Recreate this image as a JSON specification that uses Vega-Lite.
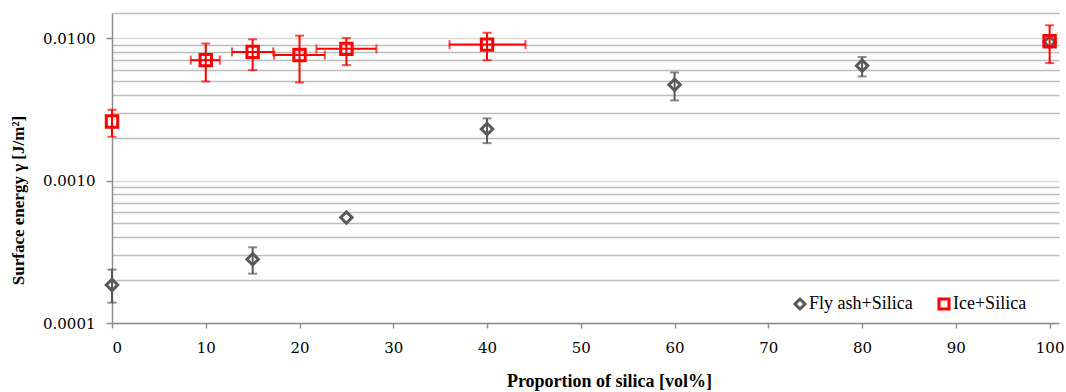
{
  "$schema": "https://vega.github.io/schema/vega-lite/v6.json",
  "width": 947,
  "height": 310,
  "autosize": "none",
  "padding": {"left": 112, "top": 13, "right": 7, "bottom": 69},
  "background": "white",
  "config": {
    "view": {"stroke": null},
    "axis": {
      "labelFont": "DejaVu Serif",
      "labelFontSize": 15,
      "labelColor": "#000000",
      "titleFont": "Liberation Serif",
      "titleFontSize": 18,
      "titleFontWeight": "bold",
      "titleColor": "#000000",
      "domainColor": "#8c8c8c",
      "domainWidth": 1.5,
      "tickColor": "#8c8c8c",
      "tickWidth": 1.5
    }
  },
  "data": {
    "values": [
      {"series": "Fly ash+Silica", "x": 0, "y": 0.000185, "ylo": 0.000139, "yhi": 0.000237, "xlo": null, "xhi": null},
      {"series": "Fly ash+Silica", "x": 15, "y": 0.00028, "ylo": 0.000222, "yhi": 0.00034, "xlo": null, "xhi": null},
      {"series": "Fly ash+Silica", "x": 25, "y": 0.00055, "ylo": null, "yhi": null, "xlo": null, "xhi": null},
      {"series": "Fly ash+Silica", "x": 40, "y": 0.0023, "ylo": 0.00183, "yhi": 0.00273, "xlo": null, "xhi": null},
      {"series": "Fly ash+Silica", "x": 60, "y": 0.0047, "ylo": 0.00365, "yhi": 0.00574, "xlo": null, "xhi": null},
      {"series": "Fly ash+Silica", "x": 80, "y": 0.0064, "ylo": 0.00538, "yhi": 0.00736, "xlo": null, "xhi": null},
      {"series": "Fly ash+Silica", "x": 100, "y": 0.0094, "ylo": null, "yhi": null, "xlo": null, "xhi": null},
      {"series": "Ice+Silica", "x": 0, "y": 0.0026, "ylo": 0.00203, "yhi": 0.00314, "xlo": null, "xhi": null},
      {"series": "Ice+Silica", "x": 10, "y": 0.0070, "ylo": 0.00496, "yhi": 0.00916, "xlo": 8.4, "xhi": 11.5},
      {"series": "Ice+Silica", "x": 15, "y": 0.0080, "ylo": 0.00596, "yhi": 0.0098, "xlo": 12.8, "xhi": 17.2},
      {"series": "Ice+Silica", "x": 20, "y": 0.0076, "ylo": 0.00488, "yhi": 0.0104, "xlo": 17.3, "xhi": 22.7},
      {"series": "Ice+Silica", "x": 25, "y": 0.0084, "ylo": 0.00646, "yhi": 0.0100, "xlo": 21.8, "xhi": 28.2},
      {"series": "Ice+Silica", "x": 40, "y": 0.0090, "ylo": 0.0070, "yhi": 0.0109, "xlo": 36.0, "xhi": 44.1},
      {"series": "Ice+Silica", "x": 100, "y": 0.0095, "ylo": 0.00667, "yhi": 0.0123, "xlo": null, "xhi": null}
    ]
  },
  "layer": [
    {
      "mark": {"type": "point", "filled": false, "size": 130, "strokeWidth": 3, "opacity": 1},
      "encoding": {
        "x": {
          "field": "x", "type": "quantitative",
          "scale": {"domain": [0, 101], "nice": false},
          "axis": {
            "values": [0, 10, 20, 30, 40, 50, 60, 70, 80, 90, 100],
            "grid": false,
            "tickSize": 5,
            "labelPadding": 12,
            "title": "Proportion of silica [vol%]",
            "titleX": 497,
            "titleY": 58,
            "titleBaseline": "middle",
            "titleAnchor": "middle"
          }
        },
        "y": {
          "field": "y", "type": "quantitative",
          "scale": {"type": "log", "domain": [0.0001, 0.015], "nice": false},
          "axis": {
            "values": [0.0001, 0.0002, 0.0003, 0.0004, 0.0005, 0.0006, 0.0007, 0.0008, 0.0009, 0.001, 0.002, 0.003, 0.004, 0.005, 0.006, 0.007, 0.008, 0.009, 0.01, 0.015],
            "grid": true,
            "gridWidth": 1.5,
            "gridColor": {"condition": {"test": "abs(log(datum.value)/LN10 - round(log(datum.value)/LN10)) < 0.001", "value": "#dadada"}, "value": "#bdbdbd"},
            "tickOpacity": {"condition": {"test": "abs(log(datum.value)/LN10 - round(log(datum.value)/LN10)) < 0.001", "value": 1}, "value": 0},
            "tickSize": 6,
            "labelPadding": 11,
            "labelExpr": "abs(log(datum.value)/LN10 - round(log(datum.value)/LN10)) < 0.001 ? format(datum.value, '.4f') : ''",
            "title": "Surface energy γ [J/m²]",
            "titleFontSize": 17,
            "titleX": -94,
            "titleY": 187,
            "titleAngle": 270,
            "titleBaseline": "middle",
            "titleAlign": "center"
          }
        },
        "color": {
          "field": "series", "type": "nominal",
          "scale": {"domain": ["Fly ash+Silica", "Ice+Silica"], "range": ["#595959", "#ff0000"]},
          "legend": {"orient": "none", "legendX": 679, "legendY": 282, "direction": "horizontal", "title": null, "labelFont": "Liberation Serif", "labelFontSize": 18, "labelColor": "#000000", "symbolSize": 100, "symbolStrokeWidth": 3, "columnPadding": 20, "labelOffset": 0}
        },
        "shape": {
          "field": "series", "type": "nominal",
          "scale": {"domain": ["Fly ash+Silica", "Ice+Silica"], "range": ["diamond", "square"]},
          "legend": {"orient": "none", "legendX": 679, "legendY": 282, "direction": "horizontal", "title": null, "labelFont": "Liberation Serif", "labelFontSize": 18, "labelColor": "#000000", "symbolSize": 100, "symbolStrokeWidth": 3, "columnPadding": 20, "labelOffset": 0}
        }
      }
    },
    {
      "transform": [{"filter": "datum.series === 'Fly ash+Silica' && datum.ylo != null"}],
      "mark": {"type": "errorbar", "color": "#595959", "rule": {"strokeWidth": 2}, "ticks": {"size": 9, "thickness": 2}},
      "encoding": {
        "x": {"field": "x", "type": "quantitative", "title": "Proportion of silica [vol%]"},
        "y": {"field": "ylo", "type": "quantitative", "title": "Surface energy γ [J/m²]"},
        "y2": {"field": "yhi"}
      }
    },
    {
      "transform": [{"filter": "datum.series === 'Ice+Silica' && datum.ylo != null"}],
      "mark": {"type": "errorbar", "color": "#ff0000", "rule": {"strokeWidth": 2}, "ticks": {"size": 9, "thickness": 2}},
      "encoding": {
        "x": {"field": "x", "type": "quantitative", "title": "Proportion of silica [vol%]"},
        "y": {"field": "ylo", "type": "quantitative", "title": "Surface energy γ [J/m²]"},
        "y2": {"field": "yhi"}
      }
    },
    {
      "transform": [{"filter": "datum.series === 'Ice+Silica' && datum.xlo != null"}],
      "mark": {"type": "errorbar", "color": "#ff0000", "rule": {"strokeWidth": 2}, "ticks": {"size": 9, "thickness": 2}},
      "encoding": {
        "x": {"field": "xlo", "type": "quantitative", "title": "Proportion of silica [vol%]"},
        "x2": {"field": "xhi"},
        "y": {"field": "y", "type": "quantitative", "title": "Surface energy γ [J/m²]"}
      }
    }
  ]
}
